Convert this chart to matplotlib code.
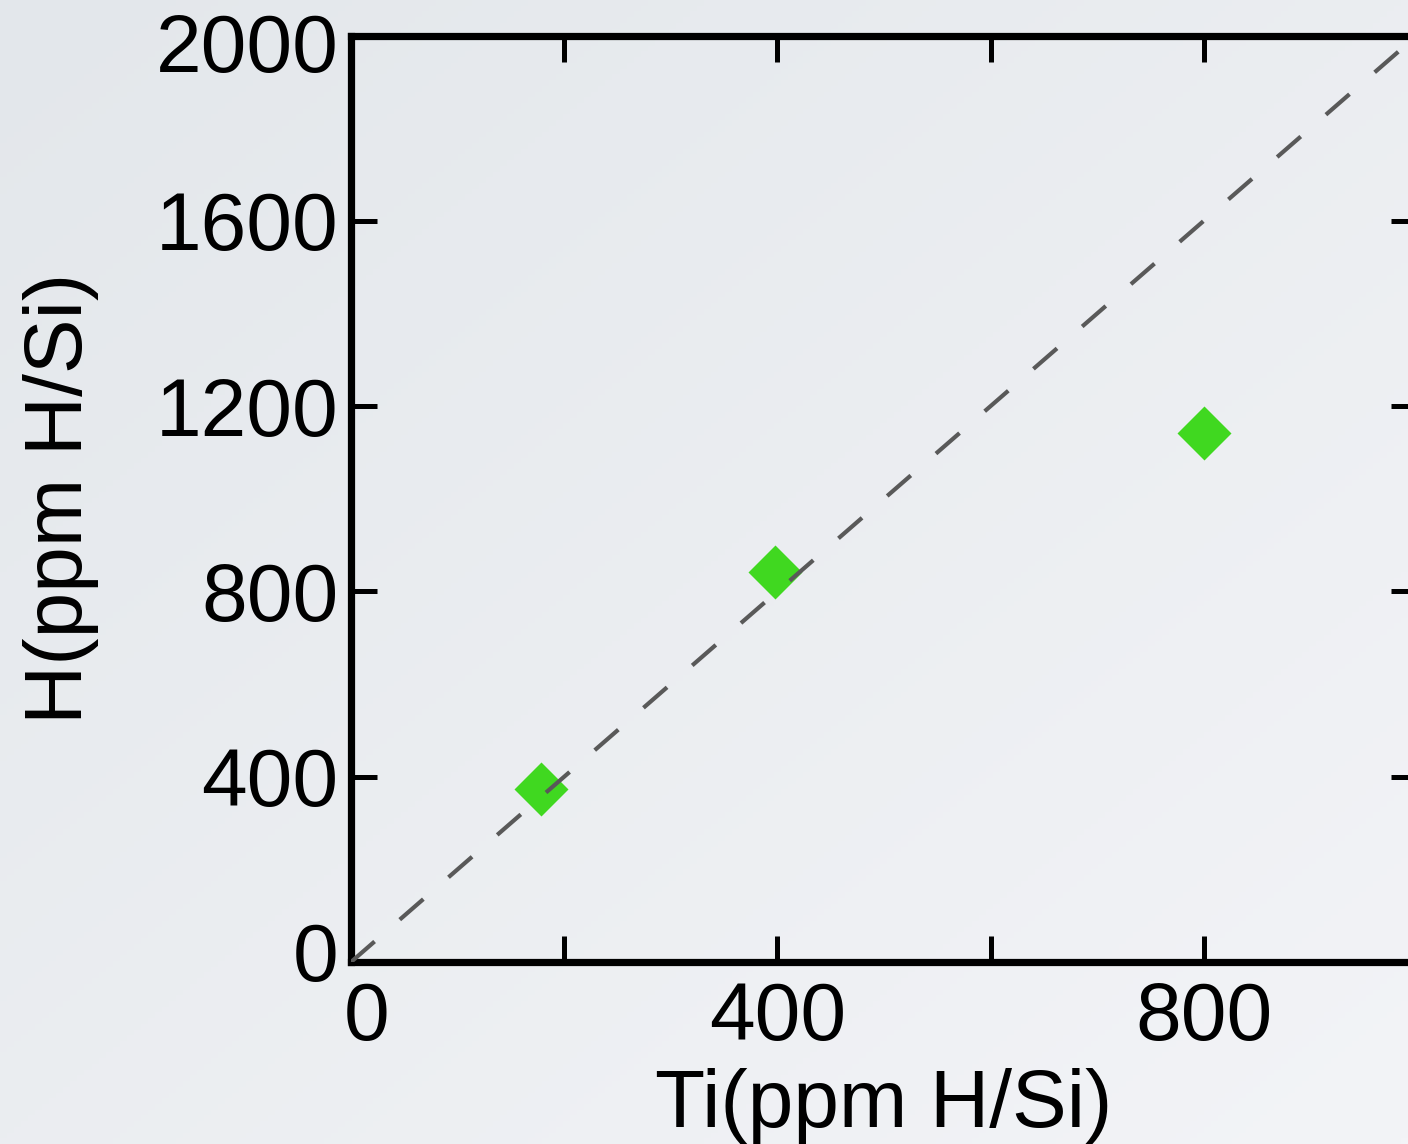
import numpy as np
import matplotlib
matplotlib.use('Agg')
import matplotlib.pyplot as plt
from matplotlib.ticker import FixedLocator
from matplotlib.transforms import ScaledTranslation

plt.rcParams['font.family'] = ['Liberation Sans', 'DejaVu Sans']

# data
ti_ppm = [178, 398, 800]
h_ppm = [373, 842, 1142]
ref_x = [0, 1000]      # H = 2 Ti guide line
ref_y = [0, 2000]
x_major = [0, 400, 800]
x_minor = [200, 600, 1000]
y_ticks = [0, 400, 800, 1200, 1600, 2000]

W, H = 1408, 1144
fig = plt.figure(figsize=(W / 100, H / 100), dpi=100)

# soft grey-blue backdrop, a little darker top-left
bg = fig.add_axes([0, 0, 1, 1], zorder=-1)
yy, xx = np.mgrid[0:1:200j, 0:1:200j]
t = (xx + yy) / 2
c0 = np.array([227, 231, 235]) / 255
c1 = np.array([243, 244, 247]) / 255
bg.imshow(c0 + (c1 - c0) * t[..., None], aspect='auto', extent=[0, 1, 0, 1])
bg.axis('off')

# main axes (right edge runs slightly past the image, as in the original)
ax = fig.add_axes([351 / W, (H - 962) / H, 1066 / W, 926.5 / H])
ax.set_facecolor('none')

ax.plot(ti_ppm, h_ppm, 'D', color='#40d820', ms=27.5, mec='none', zorder=2)
ax.plot(ref_x, ref_y, color='#595959', lw=3.0, linestyle=(0, (7.5, 8.0)), zorder=3)

ax.set_xlim(0, 1000)
ax.set_ylim(0, 2000)
ax.xaxis.set_major_locator(FixedLocator(x_major))
ax.xaxis.set_minor_locator(FixedLocator(x_minor))
ax.set_yticks(y_ticks)

for s in ax.spines.values():
    s.set_linewidth(5.2)
ax.tick_params(which='both', direction='in', top=True, right=True,
               length=18.5, width=3.6, labelsize=59)
ax.tick_params(axis='x', pad=14)
ax.tick_params(axis='y', pad=9)

# corner labels nudged away from the axes corner, as in the original
fig.canvas.draw()
xl = ax.get_xticklabels()
xl[0].set_transform(xl[0].get_transform() + ScaledTranslation(0.16, 0, fig.dpi_scale_trans))
yl = ax.get_yticklabels()
yl[0].set_transform(yl[0].get_transform() + ScaledTranslation(0, 0.11, fig.dpi_scale_trans))
yl[-1].set_transform(yl[-1].get_transform() + ScaledTranslation(0, -0.07, fig.dpi_scale_trans))

ax.set_xlabel('Ti(ppm H/Si)', fontsize=59, va='baseline')
ax.xaxis.set_label_coords(0.5, (962 - 1127) / 926.5)
ax.set_ylabel('H(ppm H/Si)', fontsize=59, va='baseline')
ax.yaxis.set_label_coords((82 - 351) / 1066, 0.5)

fig.savefig('out.png', dpi=100)
